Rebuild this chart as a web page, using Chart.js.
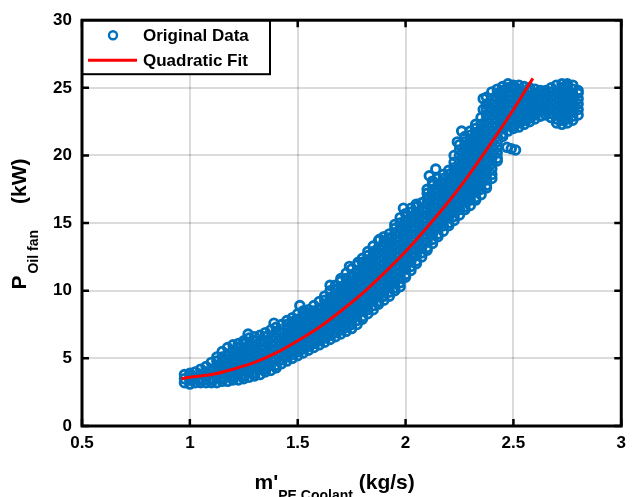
<!DOCTYPE html>
<html>
<head>
<meta charset="utf-8">
<script src="https://cdn.jsdelivr.net/npm/chart.js@4"></script>
<style>
  html, body { margin: 0; padding: 0; background: #fff; }
</style>
</head>
<body>
<canvas id="chart" width="633" height="497"></canvas>
<script>
// mass flow columns (kg/s) and the fan power readings (kW) in each column
const colX = [0.975, 1.000, 1.025, 1.050, 1.075, 1.100, 1.125, 1.150, 1.175, 1.200,
  1.225, 1.250, 1.275, 1.300, 1.325, 1.350, 1.375, 1.400, 1.425, 1.450,
  1.475, 1.500, 1.525, 1.550, 1.575, 1.600, 1.625, 1.650, 1.675, 1.700,
  1.725, 1.750, 1.775, 1.800, 1.825, 1.850, 1.875, 1.900, 1.925, 1.950,
  1.975, 2.000, 2.025, 2.050, 2.075, 2.100, 2.125, 2.150, 2.175, 2.200,
  2.225, 2.250, 2.275, 2.300, 2.325, 2.350, 2.375, 2.400, 2.425, 2.450,
  2.475, 2.500, 2.525, 2.550, 2.575, 2.600, 2.625, 2.650, 2.675, 2.700,
  2.725, 2.750, 2.775, 2.800];
const colY = [
  [3.2, 3.5, 3.8],
  [3.1, 3.4, 3.7, 3.9],
  [3.2, 3.6, 4.0],
  [3.2, 3.4, 3.8, 4.2],
  [3.2, 3.6, 4.0, 4.4],
  [3.2, 3.4, 3.8, 4.2, 4.7],
  [3.2, 3.6, 4.0, 4.4, 4.8, 5.1],
  [3.3, 3.5, 3.9, 4.3, 4.7, 5.1, 5.5],
  [3.3, 3.7, 4.1, 4.5, 4.9, 5.3, 5.8],
  [3.4, 3.6, 4.0, 4.4, 4.8, 5.2, 5.6, 6.0],
  [3.4, 3.8, 4.2, 4.6, 5.0, 5.4, 5.8, 6.1],
  [3.5, 3.7, 4.1, 4.5, 4.9, 5.3, 5.7, 6.1, 6.3],
  [3.6, 4.0, 4.4, 4.8, 5.2, 5.6, 6.0, 6.5],
  [3.7, 3.9, 4.3, 4.7, 5.1, 5.5, 5.9, 6.3, 6.6],
  [3.8, 4.2, 4.6, 5.0, 5.4, 5.8, 6.2, 6.7],
  [4.0, 4.2, 4.6, 5.0, 5.4, 5.8, 6.2, 6.6, 6.9],
  [4.1, 4.5, 4.9, 5.3, 5.7, 6.1, 6.5, 7.1],
  [4.3, 4.5, 4.9, 5.3, 5.7, 6.1, 6.5, 6.9, 7.3],
  [4.6, 4.9, 5.3, 5.7, 6.1, 6.5, 6.9, 7.5],
  [4.8, 5.1, 5.5, 5.9, 6.3, 6.7, 7.1, 7.5, 7.8],
  [5.0, 5.3, 5.7, 6.1, 6.5, 6.9, 7.3, 7.7, 8.0],
  [5.2, 5.5, 5.9, 6.3, 6.7, 7.1, 7.5, 7.9, 8.3],
  [5.4, 5.7, 6.1, 6.5, 6.9, 7.3, 7.7, 8.1, 8.5],
  [5.6, 5.9, 6.3, 6.7, 7.1, 7.5, 7.9, 8.3, 8.6],
  [5.8, 6.1, 6.5, 6.9, 7.3, 7.7, 8.1, 8.5, 8.9],
  [6.0, 6.3, 6.7, 7.1, 7.5, 7.9, 8.3, 8.7, 9.2],
  [6.2, 6.5, 6.9, 7.3, 7.7, 8.1, 8.5, 8.9, 9.3, 9.6],
  [6.4, 6.7, 7.1, 7.5, 7.9, 8.3, 8.7, 9.1, 9.5, 10.0],
  [6.6, 6.9, 7.3, 7.7, 8.1, 8.5, 8.9, 9.3, 9.7, 10.1, 10.4],
  [6.8, 7.1, 7.5, 7.9, 8.3, 8.7, 9.1, 9.5, 9.9, 10.3, 10.7, 10.9],
  [7.0, 7.3, 7.7, 8.1, 8.5, 8.9, 9.3, 9.7, 10.1, 10.5, 10.9, 11.3],
  [7.2, 7.5, 7.9, 8.3, 8.7, 9.1, 9.5, 9.9, 10.3, 10.7, 11.1, 11.6],
  [7.5, 7.8, 8.2, 8.6, 9.0, 9.4, 9.8, 10.2, 10.6, 11.0, 11.4, 11.9],
  [7.9, 8.1, 8.5, 8.9, 9.3, 9.7, 10.1, 10.5, 10.9, 11.3, 11.7, 12.1, 12.4],
  [8.3, 8.6, 9.0, 9.4, 9.8, 10.2, 10.6, 11.0, 11.4, 11.8, 12.2, 12.6, 12.9],
  [8.6, 8.9, 9.3, 9.7, 10.1, 10.5, 10.9, 11.3, 11.7, 12.1, 12.5, 12.9, 13.3],
  [9.0, 9.2, 9.6, 10.0, 10.4, 10.8, 11.2, 11.6, 12.0, 12.4, 12.8, 13.2, 13.7],
  [9.3, 9.6, 10.0, 10.4, 10.8, 11.2, 11.6, 12.0, 12.4, 12.8, 13.2, 13.6, 14.0],
  [9.6, 9.9, 10.3, 10.7, 11.1, 11.5, 11.9, 12.3, 12.7, 13.1, 13.5, 13.9, 14.2],
  [10.0, 10.2, 10.6, 11.0, 11.4, 11.8, 12.2, 12.6, 13.0, 13.4, 13.8, 14.2, 14.6, 14.9],
  [10.3, 10.6, 11.0, 11.4, 11.8, 12.2, 12.6, 13.0, 13.4, 13.8, 14.2, 14.6, 15.0, 15.4],
  [11.0, 11.2, 11.6, 12.0, 12.4, 12.8, 13.2, 13.6, 14.0, 14.4, 14.8, 15.2, 15.7],
  [11.5, 11.8, 12.2, 12.6, 13.0, 13.4, 13.8, 14.2, 14.6, 15.0, 15.4, 15.8, 16.1],
  [12.0, 12.2, 12.6, 13.0, 13.4, 13.8, 14.2, 14.6, 15.0, 15.4, 15.8, 16.2, 16.4],
  [12.5, 12.8, 13.2, 13.6, 14.0, 14.4, 14.8, 15.2, 15.6, 16.0, 16.5],
  [13.0, 13.2, 13.6, 14.0, 14.4, 14.8, 15.2, 15.6, 16.0, 16.4, 16.8, 17.2, 17.5],
  [13.5, 13.8, 14.2, 14.6, 15.0, 15.4, 15.8, 16.2, 16.6, 17.0, 17.4, 17.8, 18.1],
  [14.0, 14.2, 14.6, 15.0, 15.4, 15.8, 16.2, 16.6, 17.0, 17.4, 17.8, 18.3],
  [14.4, 14.8, 15.2, 15.6, 16.0, 16.4, 16.8, 17.2, 17.6, 18.0, 18.3, 18.6],
  [14.8, 15.0, 15.4, 15.8, 16.2, 16.6, 17.0, 17.4, 17.8, 18.2, 18.6, 18.9],
  [15.2, 15.5, 15.9, 16.3, 16.7, 17.1, 17.5, 17.9, 18.3, 18.7, 19.1, 19.5, 20.0],
  [15.6, 16.0, 16.4, 16.8, 17.2, 17.6, 18.0, 18.4, 18.8, 19.2, 19.6, 20.0, 20.4, 20.8],
  [16.0, 16.2, 16.6, 17.0, 17.4, 17.8, 18.2, 18.6, 19.0, 19.4, 19.8, 20.2, 20.6, 21.0, 21.4],
  [16.3, 16.7, 17.1, 17.5, 17.9, 18.3, 18.7, 19.1, 19.5, 19.9, 20.3, 20.7, 21.1, 21.5, 21.8],
  [16.7, 16.9, 17.3, 17.7, 18.1, 18.5, 18.9, 19.3, 19.7, 20.1, 20.5, 20.9, 21.3, 21.7, 22.0, 22.3],
  [17.1, 17.5, 17.9, 18.3, 18.7, 19.1, 19.5, 19.9, 20.3, 20.7, 21.1, 21.5, 21.9, 22.3, 22.8],
  [17.6, 17.8, 18.2, 18.6, 19.0, 19.4, 19.8, 20.2, 20.6, 21.0, 21.4, 21.8, 22.2, 22.6, 23.0, 23.4, 23.8, 24.3],
  [18.3, 18.6, 19.0, 19.4, 19.8, 20.2, 20.6, 21.0, 21.4, 21.8, 22.2, 22.6, 23.0, 23.4, 23.8, 24.2, 24.7],
  [19.6, 19.8, 20.2, 20.6, 21.0, 21.4, 21.8, 22.2, 22.6, 23.0, 23.4, 23.8, 24.2, 24.6, 24.9],
  [21.4, 21.6, 22.0, 22.4, 22.8, 23.2, 23.6, 24.0, 24.4, 24.8, 25.1],
  [21.8, 22.2, 22.6, 23.0, 23.4, 23.8, 24.2, 24.6, 25.0, 25.3],
  [22.0, 22.2, 22.6, 23.0, 23.4, 23.8, 24.2, 24.6, 25.0, 25.2],
  [22.1, 22.4, 22.8, 23.2, 23.6, 24.0, 24.4, 24.8, 25.2],
  [22.3, 22.6, 23.0, 23.4, 23.8, 24.2, 24.6, 25.1],
  [22.5, 22.8, 23.2, 23.6, 24.0, 24.4, 24.8, 25.0],
  [22.7, 23.0, 23.4, 23.8, 24.2, 24.6, 24.9],
  [22.9, 23.3, 23.7, 24.1, 24.5, 24.8],
  [23.0, 23.4, 23.8, 24.2, 24.6, 24.8],
  [22.8, 23.1, 23.5, 23.9, 24.3, 24.7, 25.0],
  [22.4, 22.7, 23.1, 23.5, 23.9, 24.3, 24.7, 25.2],
  [22.3, 22.6, 23.0, 23.4, 23.8, 24.2, 24.6, 25.0, 25.3],
  [22.4, 22.7, 23.1, 23.5, 23.9, 24.3, 24.7, 25.1, 25.3],
  [22.6, 22.9, 23.3, 23.7, 24.1, 24.5, 24.9, 25.2],
  [23.0, 23.4, 23.8, 24.2, 24.6, 24.8]
];
// stray points sitting outside the main band
const strayX = [1.27, 1.39, 1.51, 1.53, 1.65, 1.74, 1.78, 1.88, 1.91, 1.99, 2.05, 2.11, 2.14, 2.24, 2.26, 2.36, 2.36, 2.39, 2.47, 2.49, 2.51, 2.56];
const strayY = [6.8, 7.6, 8.9, 8.5, 10.4, 11.8, 12.1, 13.8, 13.5, 16.1, 15.5, 18.5, 19.0, 21.0, 21.8, 24.2, 23.4, 23.5, 20.6, 20.5, 20.4, 22.6];

// quadratic fit
const fitX = [0.96, 1.0, 1.1, 1.2, 1.3, 1.4, 1.5, 1.6, 1.7, 1.8, 1.9, 2.0, 2.1, 2.2, 2.3, 2.4, 2.5, 2.59];
const fitY = [3.5, 3.6, 3.8, 4.2, 4.7, 5.4, 6.3, 7.3, 8.5, 9.8, 11.3, 12.9, 14.7, 16.6, 18.7, 21.0, 23.4, 25.7];

const xTicks = [0.5, 1, 1.5, 2, 2.5, 3];
const yTicks = [0, 5, 10, 15, 20, 25, 30];

const FONT = "'Liberation Sans', Arial, Helvetica, sans-serif";
const BLUE = "#0072BD";

const scatterPts = [];
colX.forEach((x, i) => colY[i].forEach(y => scatterPts.push({ x: x, y: y })));
strayX.forEach((x, i) => scatterPts.push({ x: x, y: strayY[i] }));
const fitPts = fitX.map((x, i) => ({ x: x, y: fitY[i] }));

// draws text made of pieces, some of them subscripted; {gap: n} adds blank space
function drawPieces(ctx, pieces, cx, baseY) {
    let total = 0;
    pieces.forEach(p => {
        if (p.gap) { p.w = p.gap; }
        else {
            ctx.font = "bold " + p.size + "px " + FONT;
            p.w = ctx.measureText(p.t).width;
        }
        total += p.w;
    });
    let x = cx - total / 2;
    ctx.textAlign = "left";
    ctx.textBaseline = "alphabetic";
    pieces.forEach(p => {
        if (!p.gap) {
            ctx.font = "bold " + p.size + "px " + FONT;
            ctx.fillText(p.t, x, baseY + p.dy);
        }
        x += p.w;
    });
}

const framePlugin = {
    id: "frame",
    afterDraw(chart) {
        const ctx = chart.ctx;
        const a = chart.chartArea;
        const sx = chart.scales.x, sy = chart.scales.y;
        ctx.save();
        ctx.fillStyle = "#000";
        ctx.strokeStyle = "#000";

        // tick marks pointing inwards on all four sides
        ctx.lineWidth = 2.5;
        ctx.beginPath();
        xTicks.forEach(v => {
            const px = sx.getPixelForValue(v);
            ctx.moveTo(px, a.bottom); ctx.lineTo(px, a.bottom - 7);
            ctx.moveTo(px, a.top); ctx.lineTo(px, a.top + 7);
        });
        yTicks.forEach(v => {
            const py = sy.getPixelForValue(v);
            ctx.moveTo(a.left, py); ctx.lineTo(a.left + 7, py);
            ctx.moveTo(a.right, py); ctx.lineTo(a.right - 7, py);
        });
        ctx.stroke();

        // legend box in the upper left corner
        const lx = a.left, ly = a.top, lw = 188, lh = 54;
        ctx.fillStyle = "#fff";
        ctx.fillRect(lx, ly, lw, lh);
        ctx.lineWidth = 2;
        ctx.strokeRect(lx, ly, lw, lh);
        ctx.strokeStyle = BLUE;
        ctx.lineWidth = 2.4;
        ctx.beginPath();
        ctx.arc(lx + 31, ly + 15, 4, 0, Math.PI * 2);
        ctx.stroke();
        ctx.strokeStyle = "#ff0000";
        ctx.lineWidth = 3;
        ctx.beginPath();
        ctx.moveTo(lx + 6, ly + 40); ctx.lineTo(lx + 55, ly + 40);
        ctx.stroke();
        ctx.fillStyle = "#000";
        ctx.font = "bold 17px " + FONT;
        ctx.textAlign = "left";
        ctx.textBaseline = "middle";
        ctx.fillText("Original Data", lx + 61, ly + 16);
        ctx.fillText("Quadratic Fit", lx + 61, ly + 41);

        // axis frame
        ctx.strokeStyle = "#000";
        ctx.lineWidth = 3;
        ctx.strokeRect(a.left, a.top, a.right - a.left, a.bottom - a.top);

        // axis titles with subscripts
        drawPieces(ctx, [
            { t: "m'", size: 21, dy: 0 },
            { t: "PE Coolant", size: 14, dy: 11 },
            { t: " (kg/s)", size: 21, dy: 0 }
        ], (a.left + a.right) / 2 - 17, 489);

        ctx.translate(26, 224);
        ctx.rotate(-Math.PI / 2);
        drawPieces(ctx, [
            { t: "P", size: 21, dy: 0 },
            { gap: 2 },
            { t: "Oil fan", size: 14, dy: 12 },
            { gap: 26 },
            { t: "(kW)", size: 21, dy: 0 }
        ], 0, 0);
        ctx.restore();
    }
};

new Chart(document.getElementById("chart"), {
    type: "scatter",
    data: {
        datasets: [
            {
                label: "Quadratic Fit",
                type: "line",
                data: fitPts,
                borderColor: "#ff0000",
                borderWidth: 3,
                pointRadius: 0,
                tension: 0.4,
                cubicInterpolationMode: "monotone",
                fill: false,
                order: 0
            },
            {
                label: "Original Data",
                data: scatterPts,
                pointStyle: "circle",
                pointRadius: 4.3,
                borderWidth: 2.9,
                borderColor: BLUE,
                backgroundColor: "rgba(0,0,0,0)",
                order: 1
            }
        ]
    },
    options: {
        responsive: false,
        animation: false,
        devicePixelRatio: 1,
        layout: { padding: { top: 18, right: 6, left: 0, bottom: 0 } },
        plugins: { legend: { display: false }, tooltip: { enabled: false } },
        scales: {
            x: {
                type: "linear",
                min: 0.5, max: 3,
                afterFit: s => { s.height = 71; },
                afterBuildTicks: s => { s.ticks = xTicks.map(v => ({ value: v })); },
                grid: { color: "rgba(0,0,0,0.14)", lineWidth: 2, drawTicks: false },
                border: { display: false },
                ticks: {
                    color: "#000", font: { family: FONT, size: 17, weight: "bold" }, padding: 7, maxRotation: 0,
                    callback: v => String(v)
                }
            },
            y: {
                min: 0, max: 30,
                afterFit: s => { s.width = 82; },
                afterBuildTicks: s => { s.ticks = yTicks.map(v => ({ value: v })); },
                grid: { color: "rgba(0,0,0,0.14)", lineWidth: 2, drawTicks: false },
                border: { display: false },
                ticks: {
                    color: "#000", font: { family: FONT, size: 17, weight: "bold" }, padding: 10,
                    callback: v => String(v)
                }
            }
        }
    },
    plugins: [framePlugin]
});
</script>
</body>
</html>
